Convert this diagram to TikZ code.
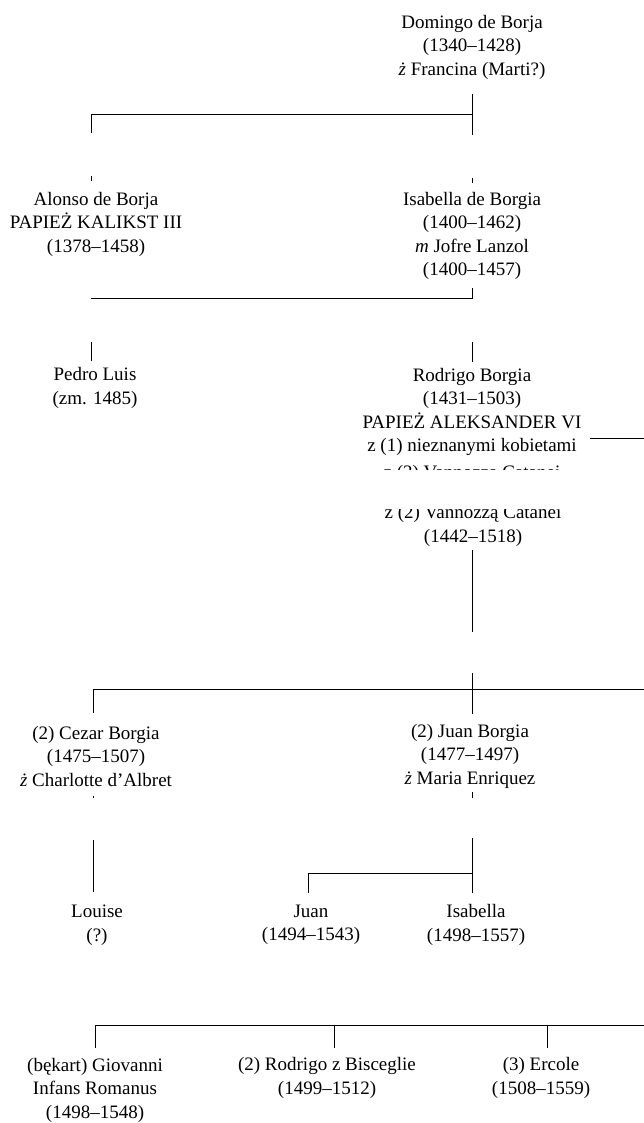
\documentclass[tikz,border=0pt]{standalone}
\usepackage{fontspec}
\setmainfont{Liberation Serif}
\begin{document}
\begin{tikzpicture}[x=1pt,y=-1pt,
  person/.style={align=center,inner sep=0pt,font=\fontsize{19}{23.5}\selectfont},
  conn/.style={line width=1pt,black}]
\fill[white] (0,0) rectangle (644,1123);
\useasboundingbox (0,0) rectangle (644,1123);

% persons
\node[person] (dom) at (472,47) {Domingo de Borja\\(1340–1428)\\\textit{ż} Francina (Marti?)};
\node[person] (alonso) at (96,224) {Alonso de Borja\\PAPIEŻ KALIKST III\\(1378–1458)};
\node[person] (isab) at (472,236) {Isabella de Borgia\\(1400–1462)\\\textit{m} Jofre Lanzol\\(1400–1457)};
\node[person] (pedro) at (95,388) {Pedro Luis\\(zm. 1485)};
\node[person] (rodrigo) at (472,412) {Rodrigo Borgia\\(1431–1503)\\PAPIEŻ ALEKSANDER VI\\z (1) nieznanymi kobietami};
\begin{scope}
\clip (360,455) rectangle (590,469);
\node[person,anchor=base] (vfrag) at (472,478) {z (2) Vannozzą Catanei};
\end{scope}
\begin{scope}
\clip (360,509) rectangle (590,560);
\node[person] (vann) at (473,526) {z (2) Vannozzą Catanei\\(1442–1518)};
\end{scope}
\node[person] (cezar) at (96,756) {(2) Cezar Borgia\\(1475–1507)\\\textit{ż} Charlotte d’Albret};
\node[person] (juanb) at (470,756) {(2) Juan Borgia\\(1477–1497)\\\textit{ż} Maria Enriquez};
\node[person] (louise) at (97,925) {Louise\\(?)};
\node[person] (juan) at (311,925) {Juan\\(1494–1543)};
\node[person] (isab2) at (476,925) {Isabella\\(1498–1557)};
\node[person] (giov) at (95,1090) {(bękart) Giovanni\\Infans Romanus\\(1498–1548)};
\node[person] (rodr2) at (327,1078) {(2) Rodrigo z Bisceglie\\(1499–1512)};
\node[person] (ercole) at (541,1078) {(3) Ercole\\(1508–1559)};

% coordinates for connectors
\coordinate (d1) at (472,94);
\coordinate (d2) at (472,115);
\coordinate (d3) at (472,135);
\coordinate (d4) at (91,115);
\coordinate (d5) at (91,133);
\coordinate (ta1) at (91,176);
\coordinate (ta2) at (91,181);
\coordinate (ti1) at (472,178);
\coordinate (ti2) at (472,183);
\coordinate (i1) at (472,288);
\coordinate (i2) at (472,298);
\coordinate (i3) at (91,298);
\coordinate (p1) at (91,342);
\coordinate (p2) at (91,361);
\coordinate (r1) at (472,342);
\coordinate (r2) at (472,362);
\coordinate (rr1) at (590,438);
\coordinate (rr2) at (644,438);
\coordinate (v1) at (472,550);
\coordinate (v2) at (472,632);
\coordinate (c1) at (472,673);
\coordinate (c2) at (472,714);
\coordinate (c3) at (93,689);
\coordinate (c4) at (644,689);
\coordinate (c5) at (93,713);
\coordinate (cz1) at (93,796);
\coordinate (cz2) at (93,798);
\coordinate (jb1) at (472,792);
\coordinate (jb2) at (472,798);
\coordinate (l1) at (93,840);
\coordinate (l2) at (93,892);
\coordinate (j1) at (472,838);
\coordinate (j2) at (472,873);
\coordinate (j3) at (472,893);
\coordinate (j4) at (308,873);
\coordinate (j5) at (308,893);
\coordinate (b1) at (95,1025);
\coordinate (b2) at (644,1025);
\coordinate (b3) at (95,1048);
\coordinate (b4) at (334,1025);
\coordinate (b5) at (334,1048);
\coordinate (b6) at (547,1025);
\coordinate (b7) at (547,1048);

% connectors
\draw[conn] (d1) -- (d3);
\draw[conn] (d5) -- (d4) -- (d2);
\draw[conn] (ta1) -- (ta2);
\draw[conn] (ti1) -- (ti2);
\draw[conn] (i1) -- (i2) -- (i3);
\draw[conn] (p1) -- (p2);
\draw[conn] (r1) -- (r2);
\draw[conn] (rr1) -- (rr2);
\draw[conn] (v1) -- (v2);
\draw[conn] (c1) -- (c2);
\draw[conn] (c5) -- (c3) -- (c4);
\draw[conn] (cz1) -- (cz2);
\draw[conn] (jb1) -- (jb2);
\draw[conn] (l1) -- (l2);
\draw[conn] (j1) -- (j3);
\draw[conn] (j5) -- (j4) -- (j2);
\draw[conn] (b3) -- (b1) -- (b2);
\draw[conn] (b4) -- (b5);
\draw[conn] (b6) -- (b7);
\end{tikzpicture}
\end{document}
